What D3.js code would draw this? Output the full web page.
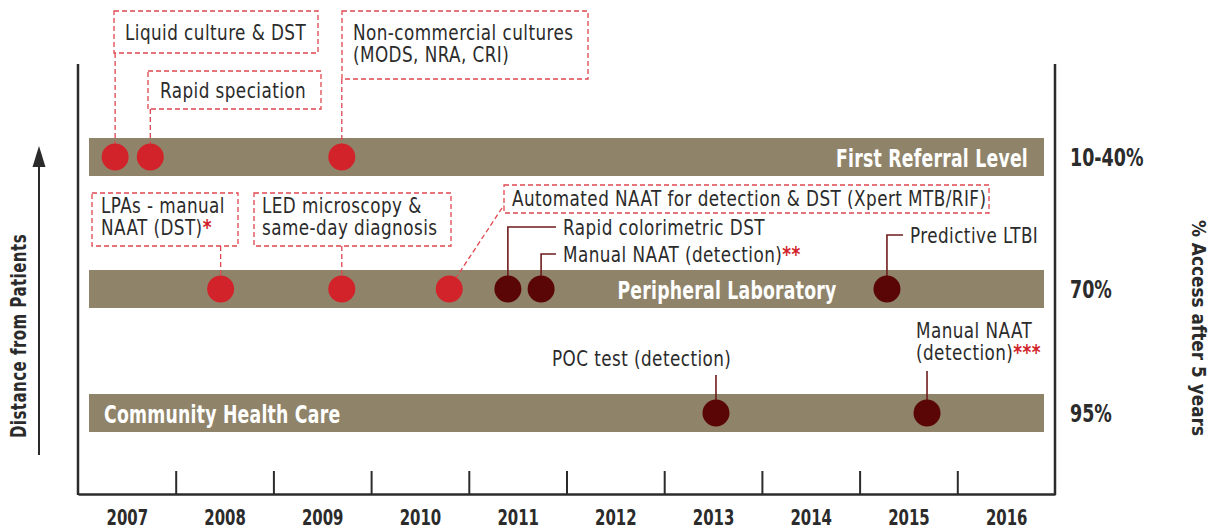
<!DOCTYPE html>
<html>
<head>
<meta charset="utf-8">
<script src="https://cdnjs.cloudflare.com/ajax/libs/d3/7.8.5/d3.min.js"></script>
<style>
  body { margin: 0; background: #fff; }
  svg text { font-family: "Liberation Sans Narrow", "DejaVu Sans Condensed", "Roboto Condensed", sans-serif; }
</style>
</head>
<body>
<svg id="chart" width="1217" height="532"></svg>
<script>
// ---- data ----
var years = [2007, 2008, 2009, 2010, 2011, 2012, 2013, 2014, 2015, 2016];
var levels = ["First Referral Level", "Peripheral Laboratory", "Community Health Care"];
var access = ["10-40%", "70%", "95%"];

var tests = ["Liquid culture & DST", "Rapid speciation", "Non-commercial cultures (MODS, NRA, CRI)",
             "LPAs - manual NAAT (DST)*", "LED microscopy & same-day diagnosis",
             "Automated NAAT for detection & DST (Xpert MTB/RIF)", "Rapid colorimetric DST",
             "Manual NAAT (detection)**", "Predictive LTBI", "POC test (detection)", "Manual NAAT (detection)***"];
var testYear = [2007.38, 2007.74, 2009.70, 2008.46, 2009.70, 2010.80, 2011.40, 2011.74, 2015.28, 2013.53, 2015.69];
var testLevel = [0, 0, 0, 1, 1, 1, 1, 1, 1, 2, 2];
var testStatus = ["endorsed", "endorsed", "endorsed", "endorsed", "endorsed", "endorsed",
                  "pipeline", "pipeline", "pipeline", "pipeline", "pipeline"];

// ---- label layout (how each name is broken and placed) ----
var labelLines = [["Liquid culture & DST"], ["Rapid speciation"], ["Non-commercial cultures", "(MODS, NRA, CRI)"],
                  ["LPAs - manual", "NAAT (DST)*"], ["LED microscopy &", "same-day diagnosis"],
                  ["Automated NAAT for detection & DST (Xpert MTB/RIF)"], ["Rapid colorimetric DST"],
                  ["Manual NAAT (detection)**"], ["Predictive LTBI"], ["POC test (detection)"], ["Manual NAAT", "(detection)***"]];
// box: dashed frame; tx/ty text origin; kind of leader
var labelPos = [
  {kind: "box", box: [114, 11, 204, 42], tx: 125, ty: 40},
  {kind: "box", box: [148, 71, 173, 38], tx: 160, ty: 98},
  {kind: "box", box: [342, 11, 246, 68], tx: 353, ty: 40},
  {kind: "box", box: [92, 193, 146, 53], tx: 101, ty: 213},
  {kind: "box", box: [254, 193, 197, 53], tx: 262, ty: 213},
  {kind: "diag", box: [504, 185, 485, 28], tx: 512, ty: 206, end: [504, 205]},
  {kind: "elbow", ey: 227, ex: 556, tx: 563, ty: 235},
  {kind: "elbow", ey: 254, ex: 556, tx: 563, ty: 262},
  {kind: "elbow", ey: 235, ex: 903, tx: 910, ty: 243},
  {kind: "stem", ey: 375, tx: 552, ty: 366},
  {kind: "stem", ey: 371, tx: 916, ty: 338}
];

var lineGap = 22;
var red = "#d2232a", dark = "#5b0606", barFill = "#8f846a", dash = "#e0474f", ink = "#2b2b2b";

var svg = d3.select("#chart");

// the installed condensed face is wider than the original, squeeze it horizontally
function place(sel, px, py, sx, rot) {
  sel.attr("transform", "translate(" + px + "," + py + ")" + (rot ? " rotate(" + rot + ")" : "") + " scale(" + sx + ",1)");
}

var x = d3.scaleLinear().domain([2007, 2017]).range([78, 1055]);
var y = d3.scaleOrdinal().domain(levels).range([157, 289, 413]);
var barH = 38;

// level bars
var bars = svg.append("g");
bars.selectAll("rect").data(levels).enter().append("rect")
  .attr("x", 89).attr("width", 1044 - 89)
  .attr("y", function(d) { return y(d) - barH / 2; })
  .attr("height", barH)
  .attr("fill", barFill);

bars.selectAll("text").data(levels).enter().append("text")
  .attr("dy", "0.36em")
  .attr("text-anchor", function(d, i) { return ["end", "middle", "start"][i]; })
  .attr("fill", "#fff")
  .attr("font-weight", "bold")
  .attr("font-size", 24)
  .attr("letter-spacing", 0.3)
  .text(function(d) { return d; })
  .each(function(d, i) { place(d3.select(this), [1028, 727, 104][i], y(d) + 1, 0.8); });

// axes
var bottom = 494;
svg.append("g")
  .attr("transform", "translate(0," + bottom + ")")
  .call(d3.axisBottom(x).tickValues(years.slice(1)).tickFormat("").tickSizeInner(-23).tickSizeOuter(0))
  .call(function(g) {
    g.select(".domain").attr("stroke", ink).attr("stroke-width", 2.5);
    g.selectAll(".tick line").attr("stroke", ink).attr("stroke-width", 2);
  });

svg.append("g")
  .attr("transform", "translate(0," + bottom + ")")
  .call(d3.axisBottom(x).tickValues(years.map(function(v) { return v + 0.5; }))
    .tickFormat(function(d) { return Math.floor(d); }).tickSize(0).tickPadding(0))
  .call(function(g) {
    g.select(".domain").remove();
    g.selectAll("text").attr("font-size", 21).attr("font-weight", "bold")
      .attr("fill", ink).attr("y", 0).attr("dy", 0)
      .attr("font-family", "Liberation Sans Narrow, DejaVu Sans Condensed, sans-serif")
      .attr("transform", "translate(0,31) scale(0.79,1)");
  });

[x(2007), x(2017)].forEach(function(px) {
  svg.append("line").attr("x1", px).attr("x2", px).attr("y1", 64).attr("y2", bottom + 1)
    .attr("stroke", ink).attr("stroke-width", 2.5);
});

// access percentages
svg.append("g").selectAll("text").data(access).enter().append("text")
  .attr("dy", "0.36em")
  .attr("font-size", 24).attr("font-weight", "bold").attr("fill", ink)
  .text(function(d) { return d; })
  .each(function(d, i) { place(d3.select(this), 1070, y(levels[i]), 0.81); });

// side titles
place(svg.append("text")
  .attr("text-anchor", "middle")
  .attr("font-size", 22).attr("font-weight", "bold").attr("fill", ink)
  .attr("letter-spacing", 0.6)
  .text("Distance from Patients"), 26, 336, 0.76, -90);

place(svg.append("text")
  .attr("text-anchor", "middle")
  .attr("font-size", 19).attr("font-weight", "bold").attr("fill", ink)
  .text("% Access after 5 years"), 1192, 328, 0.99, 90);

// arrow
svg.append("line").attr("x1", 39).attr("x2", 39).attr("y1", 455).attr("y2", 160)
  .attr("stroke", ink).attr("stroke-width", 2);
svg.append("path").attr("d", "M39,146 L45.5,167 L32.5,167 Z").attr("fill", ink);

// leaders and labels
var notes = svg.append("g");
tests.forEach(function(t, i) {
  var p = labelPos[i];
  var cx = x(testYear[i]), cy = y(levels[testLevel[i]]);
  if (p.kind === "box" || p.kind === "diag") {
    notes.append("rect")
      .attr("x", p.box[0]).attr("y", p.box[1]).attr("width", p.box[2]).attr("height", p.box[3])
      .attr("fill", "none").attr("stroke", dash).attr("stroke-width", 1.3).attr("stroke-dasharray", "5,3");
    if (p.kind === "box") {
      notes.append("line").attr("x1", cx).attr("x2", cx).attr("y1", p.box[1] + p.box[3]).attr("y2", cy - 10)
        .attr("stroke", dash).attr("stroke-width", 1.3).attr("stroke-dasharray", "5,3");
    } else {
      notes.append("line").attr("x1", cx + 6).attr("y1", cy - 10).attr("x2", p.end[0]).attr("y2", p.end[1])
        .attr("stroke", dash).attr("stroke-width", 1.3).attr("stroke-dasharray", "5,3");
    }
  } else if (p.kind === "elbow") {
    notes.append("path").attr("d", "M" + cx + "," + cy + "V" + p.ey + "H" + p.ex)
      .attr("fill", "none").attr("stroke", "#6e1c1c").attr("stroke-width", 1.6);
  } else {
    notes.append("line").attr("x1", cx).attr("x2", cx).attr("y1", cy).attr("y2", p.ey)
      .attr("stroke", "#6e1c1c").attr("stroke-width", 1.6);
  }

  var txt = notes.append("text").attr("font-size", 21).attr("fill", ink).attr("letter-spacing", 0.5);
  place(txt, p.tx, p.ty, 0.89);
  labelLines[i].forEach(function(line, k) {
    var m = line.match(/^(.*?)(\*+)$/);
    txt.append("tspan").attr("x", 0).attr("y", k * lineGap).text(m ? m[1] : line);
    if (m) txt.append("tspan").attr("fill", red).attr("font-weight", "bold").text(m[2]);
  });
});

// test dots
svg.append("g").selectAll("circle").data(tests).enter().append("circle")
  .attr("cx", function(d, i) { return x(testYear[i]); })
  .attr("cy", function(d, i) { return y(levels[testLevel[i]]); })
  .attr("r", 13.5)
  .attr("fill", function(d, i) { return testStatus[i] === "endorsed" ? red : dark; });
</script>
</body>
</html>
